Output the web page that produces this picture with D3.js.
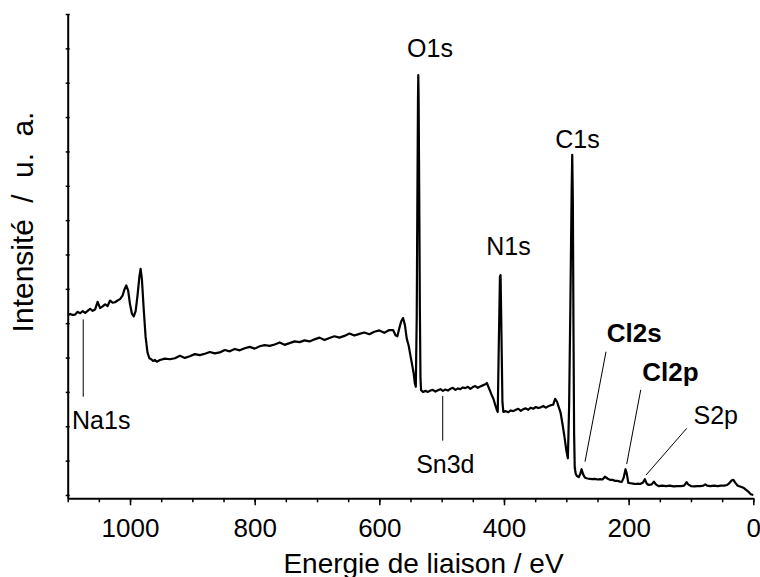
<!DOCTYPE html>
<html>
<head>
<meta charset="utf-8">
<script src="https://cdn.jsdelivr.net/npm/d3@7"></script>
<style>
  html, body { margin: 0; padding: 0; background: #fff; }
  svg { display: block; }
  text { font-family: "Liberation Sans", Arial, Helvetica, sans-serif; fill: #000; }
</style>
</head>
<body>
<svg id="chart" width="760" height="577"></svg>
<script>
// ---- Data (binding energy in eV, intensity in arbitrary units) ----
const bindingEnergy = [
  1100,1096,1092,1088,1084,1080,1076,1072,1068,1064,1060,1056,1052,1048,1044,1040,1036,1032,1028,1024,1020,1016,1012,1009,1006,1003,1000,997,994,991,988,985,983,981,978,975,972,969,966,963,960,957,
  952,944,936,928,920,912,904,896,888,880,872,864,856,848,840,832,824,816,808,800,792,784,776,768,760,752,744,736,728,720,712,704,696,688,680,672,664,656,648,640,632,624,616,608,600,592,584,578,574,571,568,565,562,559,556,553,550,547,545,543,541.5,540,539,538,537.5,537,536,535,534,533,530,
  526,522,518,514,510,506,502,498,494,490,486,482,478,474,470,466,462,458,454,450,446,442,438,434,430,427.5,424,420,417,414,411,410,408.5,406.5,405.5,404,402.5,401,
  397,393,389,385,381,377,373,369,365,361,357,353,349,345,341,337,333,329,325,321,318,315,312,309,306,303,300,297.5,295.5,293.5,291.5,290.5,289.5,288.5,287.5,286.5,285,283,280,277.5,275.5,273,270,
  266,262,258,254,250,246,242,238,234,230,226,222,218,214,211,208,205,203,200.5,197,193,189,185,181.5,177,174,171,168,163,159.5,156,152,146,140,134,128,122,116,111,107,104,100,95,90,85,80,77,74,69,63,57,52,47,42,38,35,32,29,25,20,15,11,7,4,0
];
const intensity = [
  5.22,5.27,5.24,5.25,5.33,5.29,5.35,5.30,5.36,5.42,5.36,5.40,5.62,5.44,5.49,5.55,5.50,5.66,5.60,5.61,5.66,5.70,5.80,5.98,6.10,5.95,5.55,5.28,5.20,5.35,5.80,6.35,6.58,6.30,5.40,4.60,4.15,3.98,3.95,3.90,3.93,3.88,
  3.93,3.97,3.95,3.98,4.05,3.99,4.04,4.10,4.07,4.11,4.16,4.12,4.15,4.22,4.18,4.25,4.21,4.27,4.31,4.26,4.33,4.36,4.34,4.38,4.44,4.37,4.42,4.47,4.45,4.50,4.47,4.53,4.58,4.51,4.57,4.62,4.58,4.63,4.70,4.64,4.69,4.73,4.68,4.75,4.79,4.72,4.80,4.80,4.65,4.62,4.85,5.05,5.15,4.95,4.55,4.35,4.05,3.75,3.55,3.25,3.15,5.20,8.50,11.50,12.22,11.60,8.80,5.50,3.40,3.05,3.00,
  3.03,3.00,3.04,3.06,3.01,3.05,3.08,3.03,3.07,3.04,3.09,3.12,3.06,3.10,3.08,3.13,3.11,3.15,3.09,3.14,3.17,3.12,3.16,3.19,3.22,3.26,3.10,2.92,2.80,2.62,2.45,2.42,4.20,6.35,6.40,4.60,2.70,2.42,
  2.44,2.41,2.46,2.44,2.48,2.51,2.45,2.50,2.52,2.48,2.54,2.51,2.56,2.53,2.55,2.59,2.54,2.58,2.61,2.63,2.80,2.72,2.55,2.38,2.05,1.70,1.30,1.07,2.60,5.50,8.80,9.90,8.50,4.80,1.80,0.80,0.62,0.55,0.52,0.62,0.75,0.60,0.50,
  0.48,0.47,0.46,0.47,0.45,0.46,0.45,0.53,0.48,0.44,0.44,0.41,0.41,0.39,0.38,0.50,0.75,0.62,0.35,0.34,0.33,0.32,0.33,0.32,0.36,0.46,0.33,0.29,0.31,0.39,0.30,0.26,0.27,0.26,0.27,0.25,0.26,0.26,0.27,0.37,0.30,0.26,0.25,0.26,0.26,0.27,0.31,0.27,0.26,0.27,0.26,0.27,0.27,0.29,0.35,0.42,0.44,0.36,0.27,0.24,0.20,0.14,0.08,0.02,0.00
];

// axis ticks
const xMajorTicks = [1000, 800, 600, 400, 200, 0];
const xMinorTicks = [1100, 1050, 1000, 950, 900, 850, 800, 750, 700, 650, 600, 550, 500, 450, 400, 350, 300, 250, 200, 150, 100, 50, 0];
const yTicks = [0, 1, 2, 3, 4, 5, 6, 7, 8, 9, 10, 11, 12, 13, 14];

// peak labels: text, label position (eV, intensity), leader line endpoints (eV, intensity) or null
const labelNames   = ["O1s", "N1s", "C1s", "Na1s", "Sn3d", "Cl2s", "Cl2p", "S2p"];
const labelEnergy  = [518.7, 392.7, 282.0, 1093.0, 494.1, 190.9, 132.8, 60.2];
const labelLevel   = [12.75, 6.98, 10.10, 1.91, 0.65, 4.46, 3.32, 2.07];
const labelBold    = [false, false, false, false, false, true, true, false];
const leaderFrom   = [null, null, null, [1075.1, 5.11], [498.3, 2.88], [270.0, 0.97], [203.1, 0.90], [172.1, 0.58]];
const leaderTo     = [null, null, null, [1075.1, 2.86], [498.3, 1.58], [236.3, 4.17], [180.6, 3.06], [106.8, 1.94]];

// ---- Layout ----
const svg = d3.select("#chart");
const plotLeft = 67.7, plotRight = 753.3, plotTop = 14, plotBottom = 498.3;

const x = d3.scaleLinear().domain([1100, 0]).range([plotLeft, plotRight]);
const y = d3.scaleLinear().domain([-0.097, 14]).range([plotBottom, plotTop]);

// spectrum
const pts = bindingEnergy.map((e, i) => [e, intensity[i]]);
svg.append("path")
  .datum(pts)
  .attr("fill", "none")
  .attr("stroke", "#000")
  .attr("stroke-width", 2.2)
  .attr("stroke-linejoin", "round")
  .attr("d", d3.line().x(d => x(d[0])).y(d => y(d[1])));

// x axis minor ticks
svg.append("g")
  .attr("transform", `translate(0,${plotBottom})`)
  .call(d3.axisBottom(x).tickValues(xMinorTicks).tickSize(4).tickFormat(""))
  .call(g => g.select(".domain").remove())
  .call(g => g.selectAll("line").attr("stroke", "#000").attr("stroke-width", 1.5));

// x axis major ticks + labels
svg.append("g")
  .attr("transform", `translate(0,${plotBottom})`)
  .call(d3.axisBottom(x).tickValues(xMajorTicks).tickSize(7).tickSizeOuter(0).tickPadding(13).tickFormat(d3.format("d")))
  .call(g => g.select(".domain").attr("stroke", "#000").attr("stroke-width", 2))
  .call(g => g.selectAll("line").attr("stroke", "#000").attr("stroke-width", 1.5))
  .call(g => g.selectAll("text").attr("font-size", 26).attr("fill", "#000")
        .style("font-family", '"Liberation Sans", Arial, sans-serif'));

// y axis (ticks without labels)
svg.append("g")
  .attr("transform", `translate(${plotLeft},0)`)
  .call(d3.axisLeft(y).tickValues(yTicks).tickSize(2).tickSizeOuter(0).tickFormat(""))
  .call(g => g.select(".domain").attr("stroke", "#000").attr("stroke-width", 2))
  .call(g => g.selectAll(".tick line").attr("stroke", "#000").attr("stroke-width", 1.5).attr("x2", -2).attr("x1", 2));

// axis titles
svg.append("text")
  .attr("x", (plotLeft + plotRight) / 2 + 13)
  .attr("y", 572.5)
  .attr("text-anchor", "middle")
  .attr("font-size", 28)
  .text("Energie de liaison / eV");

svg.append("text")
  .attr("transform", "translate(33,222) rotate(-90)")
  .attr("text-anchor", "middle")
  .attr("font-size", 30)
  .style("word-spacing", "8px")
  .text("Intensité / u. a.");

// leader lines
labelNames.forEach((name, i) => {
  if (leaderFrom[i]) {
    svg.append("line")
      .attr("x1", x(leaderFrom[i][0])).attr("y1", y(leaderFrom[i][1]))
      .attr("x2", x(leaderTo[i][0])).attr("y2", y(leaderTo[i][1]))
      .attr("stroke", "#000").attr("stroke-width", 1);
  }
});

// peak labels
labelNames.forEach((name, i) => {
  svg.append("text")
    .attr("x", x(labelEnergy[i]))
    .attr("y", y(labelLevel[i]))
    .attr("text-anchor", name === "Na1s" ? "start" : "middle")
    .attr("font-size", labelBold[i] ? 26 : 25)
    .attr("font-weight", labelBold[i] ? "bold" : "normal")
    .text(name);
});
</script>
</body>
</html>
